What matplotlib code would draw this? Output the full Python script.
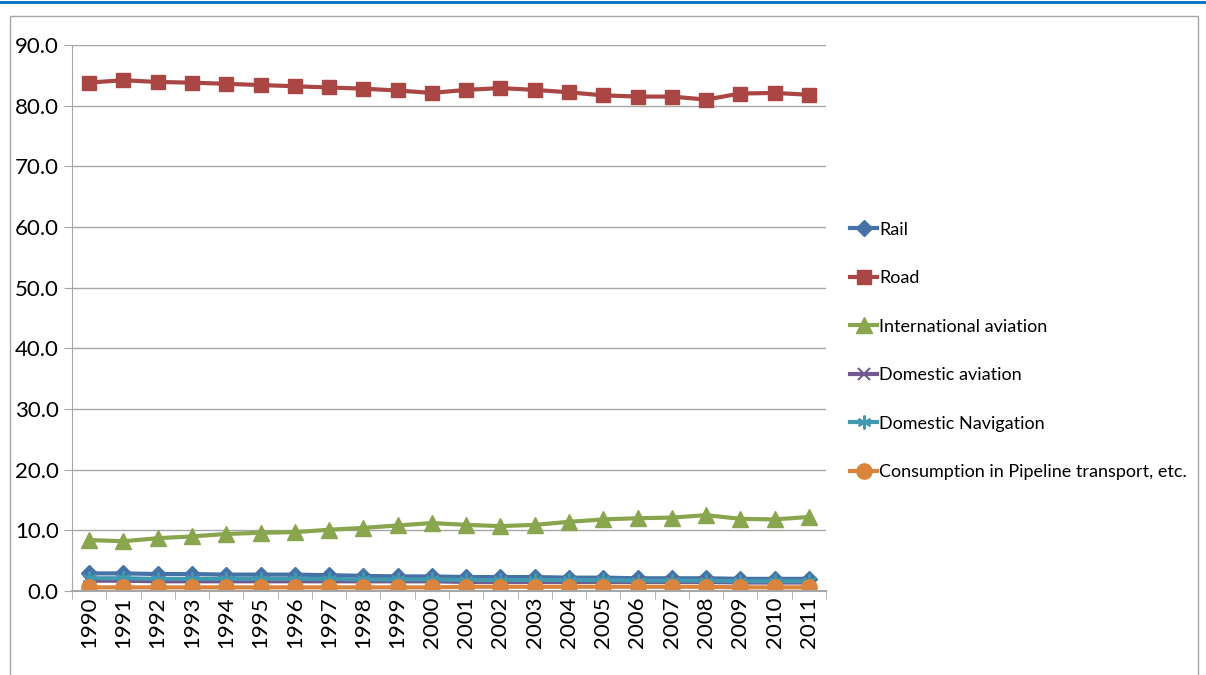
import matplotlib
matplotlib.use("Agg")
import matplotlib.pyplot as plt
from matplotlib.patches import Rectangle
from matplotlib.lines import Line2D

plt.rcParams['font.family'] = ['Lato', 'DejaVu Sans']

years = [str(y) for y in range(1990, 2012)]

rail = [2.9, 2.9, 2.8, 2.8, 2.7, 2.7, 2.7, 2.6, 2.5, 2.4, 2.4, 2.3, 2.3, 2.3, 2.2, 2.2, 2.1, 2.1, 2.1, 2.0, 2.0, 2.0]
road = [83.8, 84.2, 83.9, 83.8, 83.6, 83.4, 83.2, 83.0, 82.8, 82.5, 82.1, 82.6, 82.9, 82.6, 82.2, 81.7, 81.5, 81.5, 81.0, 82.0, 82.1, 81.8]
intl_aviation = [8.4, 8.2, 8.7, 9.0, 9.4, 9.6, 9.7, 10.1, 10.4, 10.8, 11.2, 10.9, 10.7, 10.9, 11.4, 11.8, 12.0, 12.1, 12.5, 11.9, 11.8, 12.2]
dom_aviation = [1.7, 1.7, 1.6, 1.6, 1.6, 1.6, 1.6, 1.6, 1.6, 1.6, 1.6, 1.5, 1.5, 1.5, 1.5, 1.5, 1.5, 1.5, 1.5, 1.4, 1.4, 1.4]
dom_navigation = [2.1, 2.1, 2.0, 2.0, 2.0, 2.0, 2.0, 2.0, 1.9, 1.9, 1.9, 1.8, 1.8, 1.8, 1.8, 1.8, 1.7, 1.7, 1.7, 1.6, 1.6, 1.6]
pipeline = [0.6, 0.6, 0.6, 0.6, 0.6, 0.6, 0.6, 0.6, 0.6, 0.6, 0.6, 0.7, 0.7, 0.7, 0.7, 0.7, 0.7, 0.7, 0.7, 0.6, 0.6, 0.6]

series = [
    ("Rail", rail, "#4572A7", "D", 8),
    ("Road", road, "#AA4643", "s", 10),
    ("International aviation", intl_aviation, "#89A54E", "^", 11),
    ("Domestic aviation", dom_aviation, "#71588F", "x", 9),
    ("Domestic Navigation", dom_navigation, "#4198AF", (6, 2, 0), 10),
    ("Consumption in Pipeline transport, etc.", pipeline, "#DB843D", "o", 11),
]

fig = plt.figure(figsize=(12.06, 6.75), dpi=100)

# outer chart frame and the blue rule at the top
fig.patches.append(Rectangle((10 / 1206, -0.01), 1188 / 1206, 1 - 16 / 675 + 0.01,
                             transform=fig.transFigure, fill=False,
                             edgecolor="#A6A6A6", linewidth=1))
fig.add_artist(Line2D([0, 1], [1 - 1.5 / 675, 1 - 1.5 / 675], transform=fig.transFigure,
                      color="#0070C0", linewidth=2))

ax = fig.add_axes([72 / 1206, 1 - 591 / 675, (826 - 72) / 1206, (591 - 45) / 675])

x = list(range(len(years)))
for name, vals, color, marker, ms in series:
    ax.plot(x, vals, color=color, marker=marker, markersize=ms, linewidth=3,
            markeredgewidth=1.5 if marker in ("x", (6, 2, 0)) else 1,
            markeredgecolor=color, label=name)

ax.set_ylim(0, 90)
ax.set_xlim(-0.5, len(years) - 0.5)
ax.set_yticks(range(0, 91, 10))
ax.set_yticklabels([f"{v:.1f}" for v in range(0, 91, 10)], fontsize=16)
ax.set_xticks(x)
ax.set_xticklabels(years, rotation=90, fontsize=16)
ax.set_xticks([i - 0.5 for i in range(len(years) + 1)], minor=True)
ax.tick_params(axis="x", which="major", length=0, pad=4)
ax.tick_params(axis="x", which="minor", length=6, color="#A6A6A6", direction="out")
ax.tick_params(axis="y", length=6, color="#A6A6A6", direction="out")

ax.grid(axis="y", color="#A6A6A6", linewidth=1)
ax.set_axisbelow(True)
for side in ("top", "right"):
    ax.spines[side].set_visible(False)
ax.spines["left"].set_color("#A6A6A6")
ax.spines["bottom"].set_color("#A6A6A6")
ax.spines["bottom"].set_linewidth(1.5)

ax.legend(loc="center left", bbox_to_anchor=(843 / 1206, 1 - 351 / 675),
          bbox_transform=fig.transFigure, frameon=False, fontsize=13,
          handlelength=1.5, handletextpad=0.1, labelspacing=1.8, borderaxespad=0)

fig.savefig("out.png", dpi=100)
